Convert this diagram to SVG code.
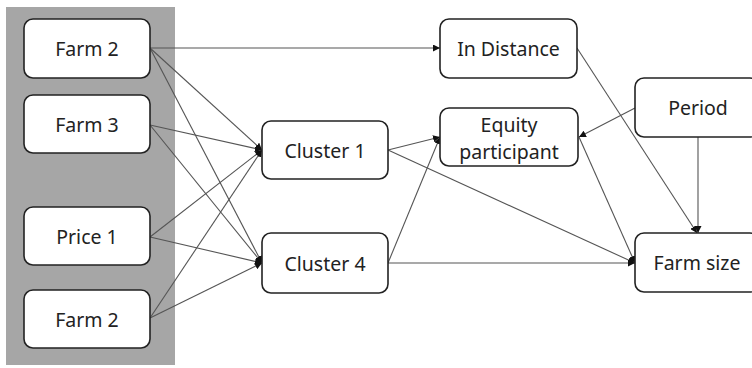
<svg xmlns="http://www.w3.org/2000/svg" width="752" height="368" viewBox="0 0 752 368">
<defs>
<style>
.box{fill:#fff;stroke:#222;stroke-width:1.6}
.t{font-family:"Noto Sans","Open Sans",sans-serif;font-size:19.5px;fill:#222;text-anchor:middle;dominant-baseline:central}
.c{stroke:#555;stroke-width:1.1;fill:none;marker-end:url(#a)}
</style>
<marker id="a" viewBox="0 0 10 10" refX="10" refY="5" markerWidth="7" markerHeight="7" orient="auto" markerUnits="userSpaceOnUse">
<path d="M0,0 L10,5 L0,10 z" fill="#111"/>
</marker>
</defs>
<rect x="6" y="7" width="169" height="358" fill="#a6a6a6"/>
<g id="connectors">
<line class="c" x1="150" y1="48" x2="440" y2="48"/>
<line class="c" x1="150" y1="48" x2="262" y2="150"/>
<line class="c" x1="150" y1="48" x2="262" y2="263"/>
<line class="c" x1="150" y1="125" x2="262" y2="150"/>
<line class="c" x1="150" y1="125" x2="262" y2="263"/>
<line class="c" x1="150" y1="237" x2="262" y2="150"/>
<line class="c" x1="150" y1="237" x2="262" y2="263"/>
<line class="c" x1="150" y1="318" x2="262" y2="150"/>
<line class="c" x1="150" y1="318" x2="262" y2="263"/>
<line class="c" x1="388" y1="150" x2="440" y2="137"/>
<line class="c" x1="388" y1="150" x2="635" y2="263"/>
<line class="c" x1="388" y1="263" x2="440" y2="137"/>
<line class="c" x1="388" y1="263" x2="635" y2="263"/>
<line class="c" x1="577" y1="48" x2="697" y2="233"/>
<line class="c" x1="698" y1="137" x2="698" y2="233"/>
<line class="c" x1="635" y1="108" x2="579" y2="137"/>
<line class="c" x1="579" y1="137" x2="635" y2="263"/>
</g>
<g id="farm2a"><rect class="box" x="24" y="19" width="126" height="59" rx="9"/><text class="t" x="87" y="48.5">Farm 2</text></g>
<g id="farm3"><rect class="box" x="24" y="95" width="126" height="58" rx="9"/><text class="t" x="87" y="124">Farm 3</text></g>
<g id="price1"><rect class="box" x="24" y="207" width="126" height="58" rx="9"/><text class="t" x="87" y="236">Price 1</text></g>
<g id="farm2b"><rect class="box" x="24" y="290" width="126" height="58" rx="9"/><text class="t" x="87" y="319">Farm 2</text></g>
<g id="cluster1"><rect class="box" x="262" y="121" width="126" height="58" rx="9"/><text class="t" x="325" y="150">Cluster 1</text></g>
<g id="cluster4"><rect class="box" x="262" y="233" width="126" height="60" rx="9"/><text class="t" x="325" y="263">Cluster 4</text></g>
<g id="lndistance"><rect class="box" x="440" y="19" width="137" height="59" rx="9"/><text class="t" x="508.5" y="48.5">In Distance</text></g>
<g id="equity"><rect class="box" x="440" y="108" width="138" height="58" rx="9"/><text class="t" x="509" y="124">Equity</text><text class="t" x="509" y="151">participant</text></g>
<g id="period"><rect class="box" x="635" y="78" width="124" height="59" rx="9"/><text class="t" x="698" y="107.5">Period</text></g>
<g id="farmsize"><rect class="box" x="635" y="233" width="124" height="59" rx="9"/><text class="t" x="697" y="262.5">Farm size</text></g>
</svg>
